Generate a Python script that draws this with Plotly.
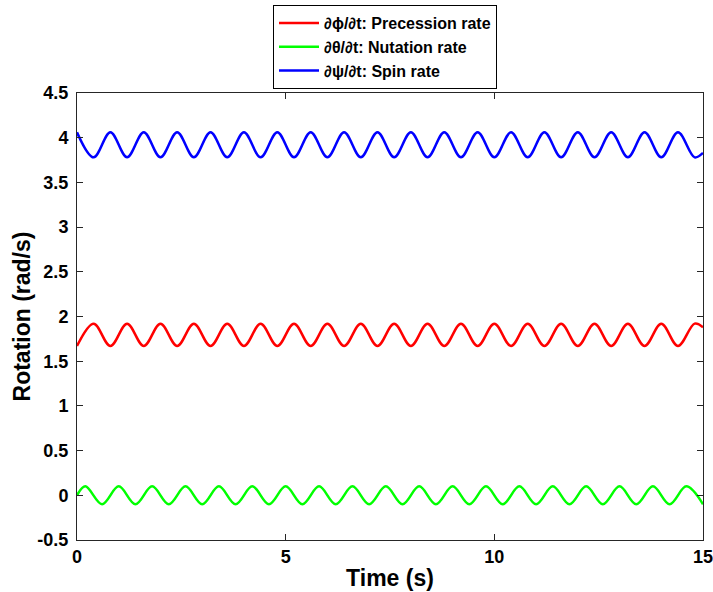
import plotly.graph_objects as go

# Extremum times (s) and values (rad/s)
blue_t = [0.0, 0.4, 0.8, 1.2, 1.6, 2.0, 2.4, 2.8, 3.2, 3.6, 4.0, 4.4, 4.8, 5.2, 5.6, 6.0,
          6.4, 6.8, 7.2, 7.6, 8.0, 8.4, 8.8, 9.2, 9.6, 10.0, 10.4, 10.8, 11.2, 11.6, 12.0,
          12.4, 12.8, 13.2, 13.6, 14.0, 14.4, 14.8, 15.0]
blue_v = [4.06, 3.78, 4.06, 3.78, 4.06, 3.78, 4.06, 3.78, 4.06, 3.78, 4.06, 3.78, 4.06,
          3.78, 4.06, 3.78, 4.06, 3.78, 4.06, 3.78, 4.06, 3.78, 4.06, 3.78, 4.06, 3.78,
          4.06, 3.78, 4.06, 3.78, 4.06, 3.78, 4.06, 3.78, 4.06, 3.78, 4.06, 3.78, 3.83]

red_t = [0.0, 0.4, 0.8, 1.2, 1.6, 2.0, 2.4, 2.8, 3.2, 3.6, 4.0, 4.4, 4.8, 5.2, 5.6, 6.0,
         6.4, 6.8, 7.2, 7.6, 8.0, 8.4, 8.8, 9.2, 9.6, 10.0, 10.4, 10.8, 11.2, 11.6, 12.0,
         12.4, 12.8, 13.2, 13.6, 14.0, 14.4, 14.8, 15.0]
red_v = [1.67, 1.92, 1.67, 1.92, 1.67, 1.92, 1.67, 1.92, 1.67, 1.92, 1.67, 1.92, 1.67,
         1.92, 1.67, 1.92, 1.67, 1.92, 1.67, 1.92, 1.67, 1.92, 1.67, 1.92, 1.67, 1.92,
         1.67, 1.92, 1.67, 1.92, 1.67, 1.92, 1.67, 1.92, 1.67, 1.92, 1.67, 1.92, 1.88]

green_t = [0.0, 0.2, 0.6, 1.0, 1.4, 1.8, 2.2, 2.6, 3.0, 3.4, 3.8, 4.2, 4.6, 5.0, 5.4, 5.8,
           6.2, 6.6, 7.0, 7.4, 7.8, 8.2, 8.6, 9.0, 9.4, 9.8, 10.2, 10.6, 11.0, 11.4, 11.8,
           12.2, 12.6, 13.0, 13.4, 13.8, 14.2, 14.6, 15.0]
green_v = [0.0, 0.10, -0.10, 0.10, -0.10, 0.10, -0.10, 0.10, -0.10, 0.10, -0.10, 0.10,
           -0.10, 0.10, -0.10, 0.10, -0.10, 0.10, -0.10, 0.10, -0.10, 0.10, -0.10, 0.10,
           -0.10, 0.10, -0.10, 0.10, -0.10, 0.10, -0.10, 0.10, -0.10, 0.10, -0.10, 0.10,
           -0.10, 0.10, -0.10]

x_ticks = [0, 5, 10, 15]
y_ticks = [-0.5, 0, 0.5, 1, 1.5, 2, 2.5, 3, 3.5, 4, 4.5]
y_labels = ["-0.5", "0", "0.5", "1", "1.5", "2", "2.5", "3", "3.5", "4", "4.5"]

FONT = "Liberation Sans, Arial, sans-serif"

fig = go.Figure()
fig.add_trace(go.Scatter(x=red_t, y=red_v, mode="lines", name="<b>∂ϕ/∂t: Precession rate</b>",
                         line=dict(color="#ff0000", width=2.5, shape="spline", smoothing=1.0)))
fig.add_trace(go.Scatter(x=green_t, y=green_v, mode="lines", name="<b>∂θ/∂t: Nutation rate</b>",
                         line=dict(color="#00ff00", width=2.5, shape="spline", smoothing=1.0)))
fig.add_trace(go.Scatter(x=blue_t, y=blue_v, mode="lines", name="<b>∂ψ/∂t: Spin rate</b>",
                         line=dict(color="#0000ff", width=2.5, shape="spline", smoothing=1.0)))

axis_common = dict(showline=True, mirror="ticks", linecolor="#262626", linewidth=1,
                   ticks="inside", ticklen=6, tickcolor="#262626", showgrid=False,
                   zeroline=False, ticklabeloverflow="allow",
                   tickfont=dict(family=FONT, size=18, color="black"))

fig.update_xaxes(range=[0, 15], tickvals=x_ticks, ticktext=[f"<b>{v}</b>" for v in x_ticks],
                 title=dict(text="<b>Time (s)</b>", font=dict(family=FONT, size=23, color="black"),
                            standoff=4),
                 **axis_common)
fig.update_yaxes(range=[-0.5, 4.5], tickvals=y_ticks, ticktext=[f"<b>{v}</b>" for v in y_labels],
                 title=dict(text="<b>Rotation (rad/s)</b>", font=dict(family=FONT, size=23, color="black"),
                            standoff=0),
                 ticklabelstandoff=4,
                 **axis_common)

fig.update_layout(
    width=713, height=592,
    margin=dict(l=77, r=10, t=93, b=52, autoexpand=False),
    paper_bgcolor="white", plot_bgcolor="white",
    font=dict(family=FONT, color="black"),
    legend=dict(x=(273 - 77) / 626, y=(540 - 5) / 447, xanchor="left", yanchor="top",
                bgcolor="white", bordercolor="black", borderwidth=1,
                font=dict(family=FONT, size=16, color="black"),
                tracegroupgap=0, itemwidth=40),
    showlegend=True,
)

fig.write_html("out.html", config={"displayModeBar": False},
               post_script="document.body.style.margin='0';document.body.style.padding='0';")
